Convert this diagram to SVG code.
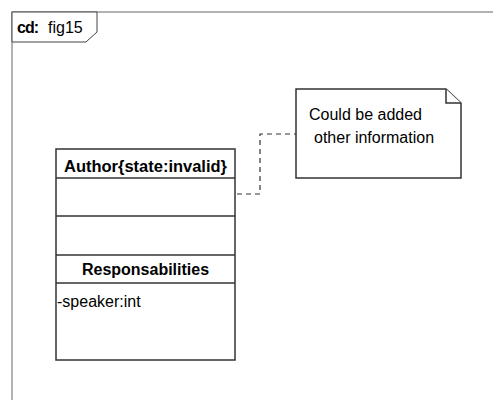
<svg xmlns="http://www.w3.org/2000/svg" width="493" height="400" viewBox="0 0 493 400">
  <style>
    text { font-family: "Liberation Sans", Arial, sans-serif; font-size: 16px; fill: #000; }
    .bold { font-weight: bold; }
    .shape { fill: #fff; stroke: #333; stroke-width: 1.5; }
    .frame { fill: none; stroke: #999; stroke-width: 1.5; }
    .tab { fill: #fff; stroke: #444; stroke-width: 1; }
    .link { fill: none; stroke: #333; stroke-width: 1.2; stroke-dasharray: 5 4; }
  </style>
  <rect width="493" height="400" fill="#fff"/>

  <!-- diagram frame with name tab -->
  <g id="frame">
    <path class="frame" d="M12 400 V12 H493"/>
    <path class="tab" d="M12 12 H97 V32 L86 42 H12 Z"/>
    <text x="17" y="33" class="bold" font-size="15" letter-spacing="-1">cd:</text>
    <text x="48" y="33" font-size="15">fig15</text>
  </g>

  <!-- connectors -->
  <g id="connectors">
    <path class="link" d="M237 194 H260 V134 H296"/>
  </g>

  <!-- class Author -->
  <g id="author">
    <rect class="shape" x="56" y="149" width="179" height="211"/>
    <line class="shape" x1="56" y1="178" x2="235" y2="178"/>
    <line class="shape" x1="56" y1="216" x2="235" y2="216"/>
    <line class="shape" x1="56" y1="255" x2="235" y2="255"/>
    <line class="shape" x1="56" y1="283" x2="235" y2="283"/>
    <text x="145.5" y="172" class="bold" text-anchor="middle" textLength="163" lengthAdjust="spacingAndGlyphs">Author{state:invalid}</text>
    <text x="145.5" y="275" class="bold" text-anchor="middle">Responsabilities</text>
    <text x="57" y="307">-speaker:int</text>
  </g>

  <!-- note -->
  <g id="note">
    <path class="shape" d="M296 89 H446 L461 103 V178 H296 Z"/>
    <path class="shape" fill="none" d="M446 89 V103 H461"/>
    <text x="309" y="120">Could be added</text>
    <text x="314" y="143">other information</text>
  </g>
</svg>
